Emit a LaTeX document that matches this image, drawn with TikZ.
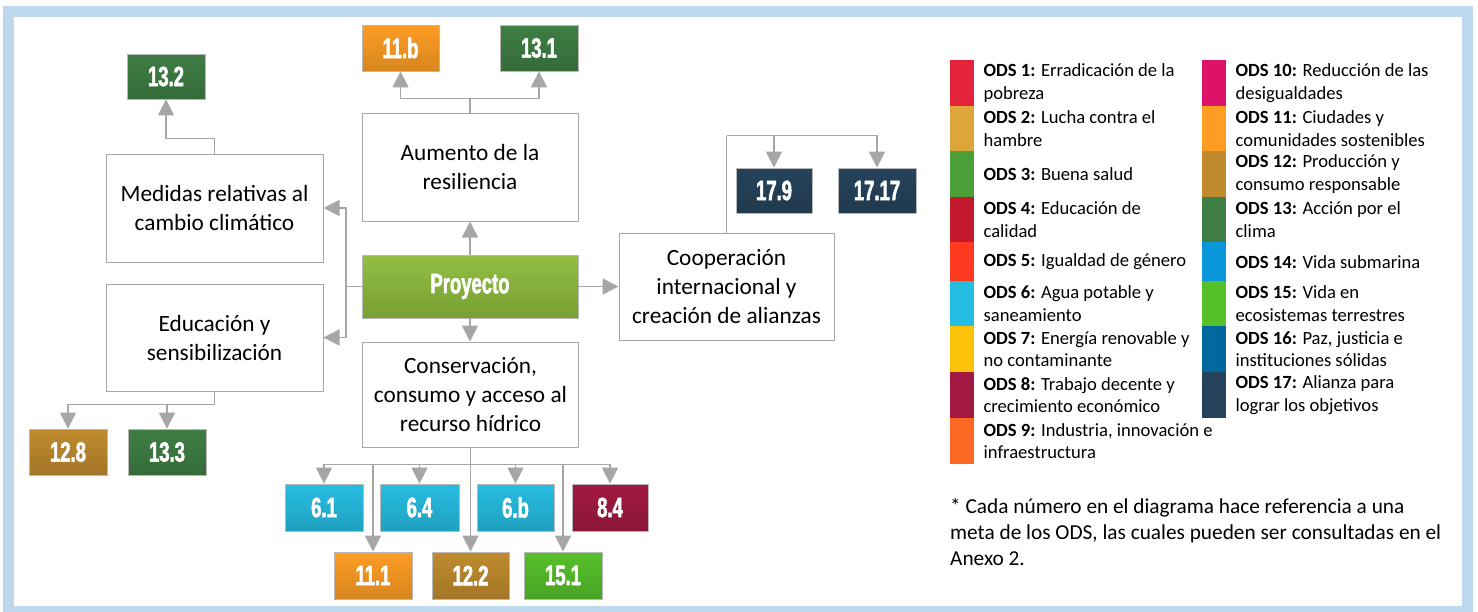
\documentclass[tikz,border=0pt]{standalone}
\usepackage{fontspec}
\setmainfont{Carlito}
\newfontfamily\numfont[FakeStretch=0.66,FakeBold=1.8]{Liberation Sans Bold}
\usetikzlibrary{arrows.meta,calc}
\definecolor{frameblue}{HTML}{BDD7EE}
\definecolor{conn}{HTML}{A6A6A6}
\definecolor{boxgray}{HTML}{A6A6A6}
\definecolor{sA}{HTML}{E5243B}
\definecolor{sB}{HTML}{DDA63A}
\definecolor{sC}{HTML}{4C9F38}
\definecolor{sD}{HTML}{C5192D}
\definecolor{sE}{HTML}{FF3A21}
\definecolor{sF}{HTML}{26BDE2}
\definecolor{sG}{HTML}{FCC30B}
\definecolor{sH}{HTML}{A21942}
\definecolor{sI}{HTML}{FD6925}
\definecolor{sJ}{HTML}{DD1367}
\definecolor{sK}{HTML}{FD9D24}
\definecolor{sL}{HTML}{BF8B2E}
\definecolor{sM}{HTML}{3F7E44}
\definecolor{sN}{HTML}{0A97D9}
\definecolor{sO}{HTML}{56C02B}
\definecolor{sP}{HTML}{00689D}
\definecolor{sQ}{HTML}{26435B}
\definecolor{proyg}{HTML}{8DBB3B}
\tikzset{
  wbox/.style={draw=boxgray, line width=1pt, fill=white, inner sep=0pt, align=center,
    font=\fontsize{23.3}{29}\selectfont},
  goal/.style={draw=boxgray!80, line width=0.8pt, top color=#1, bottom color=#1!85!black,
    inner sep=0pt, text=white, font=\numfont\bfseries\fontsize{28}{28}\selectfont},
  cline/.style={draw=conn, line width=1.5pt},
  arr/.style={draw=conn, line width=1.5pt, -{Triangle[length=16pt,width=16pt]}},
  legsq/.style={fill=#1, draw=none, inner sep=0pt, minimum width=24pt, anchor=north west},
  legtx/.style={inner sep=0pt, anchor=west, align=left, font=\fontsize{18.6}{22.5}\selectfont},
}
\begin{document}
\begin{tikzpicture}[x=1pt,y=-1pt]
\useasboundingbox (0,0) rectangle (1478,611);
\fill[white] (0,0) rectangle (1478,611);
\draw[frameblue, line width=11.5pt] (8.5,11.5) rectangle (1467.5,611.5);

% main boxes
\node[wbox, minimum width=216pt, minimum height=108pt] (aum) at (470,167) {Aumento de la\\resiliencia};
\node[wbox, minimum width=217pt, minimum height=108pt] (med) at (214.5,208) {Medidas relativas al\\cambio climático};
\node[wbox, minimum width=217pt, minimum height=107pt] (edu) at (214.5,337.5) {Educación y\\sensibilización};
\node[wbox, minimum width=215pt, minimum height=107pt] (coop) at (726.5,286.5) {Cooperación\\internacional y\\creación de alianzas};
\node[wbox, minimum width=216pt, minimum height=105pt] (cons) at (470.5,394.5) {Conservación,\\consumo y acceso al\\recurso hídrico};
\node[draw=boxgray!80, line width=0.8pt, top color=proyg!95!white, bottom color=proyg!85!black,
  inner sep=0pt, text=white, font=\numfont\bfseries\fontsize{28}{28}\selectfont,
  minimum width=216pt, minimum height=63pt] (proy) at (470,286.5) {Proyecto};

% goal boxes
\node[goal=sM, minimum width=78pt, minimum height=45pt] (g132) at (166,76.5) {13.2};
\node[goal=sK, minimum width=77pt, minimum height=46pt] (g11b) at (400.5,48) {11.b};
\node[goal=sM, minimum width=78pt, minimum height=46pt] (g131) at (539,48) {13.1};
\node[goal=sQ, minimum width=76pt, minimum height=45pt] (g179) at (774,190.5) {17.9};
\node[goal=sQ, minimum width=78pt, minimum height=45pt] (g1717) at (877,190.5) {17.17};
\node[goal=sL, minimum width=78pt, minimum height=46pt] (g128) at (68,452) {12.8};
\node[goal=sM, minimum width=78pt, minimum height=46pt] (g133) at (167,452) {13.3};
\node[goal=sF, minimum width=78pt, minimum height=47pt] (g61) at (324,507.5) {6.1};
\node[goal=sF, minimum width=79pt, minimum height=47pt] (g64) at (419.5,507.5) {6.4};
\node[goal=sF, minimum width=77pt, minimum height=47pt] (g6b) at (515.5,507.5) {6.b};
\node[goal=sH, minimum width=76pt, minimum height=47pt] (g84) at (610,507.5) {8.4};
\node[goal=sK, minimum width=78pt, minimum height=47pt] (g111) at (373,575.5) {11.1};
\node[goal=sL, minimum width=77pt, minimum height=47pt] (g122) at (470.5,575.5) {12.2};
\node[goal=sO, minimum width=78pt, minimum height=47pt] (g151) at (563,575.5) {15.1};

% connectors
\draw[arr] (proy.north) -- (aum.south);
\draw[arr] (proy.south) -- (proy.south |- cons.north);
\draw[arr] (proy.east) -- (coop.west);
\coordinate (lj) at (346,286.5);
\draw[cline] (proy.west) -- (lj);
\draw[arr] (lj) |- (med.east);
\draw[arr] (lj) |- (edu.east);

\draw[cline] (aum.north) -- ++(0,-14) coordinate (aj);
\draw[arr] (aj) -| (g11b.south);
\draw[arr] (aj) -| (g131.south);

\draw[cline] (med.north) -- ++(0,-15) coordinate (mj);
\draw[arr] (mj) -| (g132.south);

\draw[cline] (edu.south) -- ++(0,13) coordinate (ej);
\draw[arr] (ej) -| (g128.north);
\draw[arr] (ej) -| (g133.north);

\draw[cline] (coop.north) -- ++(0,-97) coordinate (cj);
\draw[arr] (cj) -| (g179.north);
\draw[arr] (cj) -| (g1717.north);

\draw[cline] (cons.south) -- ++(0,17) coordinate (kj);
\foreach \g in {g61,g64,g6b,g84,g111,g122,g151}{
  \draw[arr] (kj) -| (\g.north);
}

% legend
\node[legsq=sA, minimum height=45.5pt] (l1) at (950,60) {};
\node[legsq=sB, minimum height=45.5pt] (l2) at (950,105.5) {};
\node[legsq=sC, minimum height=46pt] (l3) at (950,151) {};
\node[legsq=sD, minimum height=45pt] (l4) at (950,197) {};
\node[legsq=sE, minimum height=39pt] (l5) at (950,242) {};
\node[legsq=sF, minimum height=45pt] (l6) at (950,281) {};
\node[legsq=sG, minimum height=46pt] (l7) at (950,326) {};
\node[legsq=sH, minimum height=46pt] (l8) at (950,372) {};
\node[legsq=sI, minimum height=46pt] (l9) at (950,418) {};
\node[legsq=sJ, minimum height=45.5pt] (l10) at (1202,60) {};
\node[legsq=sK, minimum height=45.5pt] (l11) at (1202,105.5) {};
\node[legsq=sL, minimum height=46pt] (l12) at (1202,151) {};
\node[legsq=sM, minimum height=45pt] (l13) at (1202,197) {};
\node[legsq=sN, minimum height=39pt] (l14) at (1202,242) {};
\node[legsq=sO, minimum height=45pt] (l15) at (1202,281) {};
\node[legsq=sP, minimum height=46pt] (l16) at (1202,326) {};
\node[legsq=sQ, minimum height=46pt] (l17) at (1202,372) {};

\node[legtx] (t1) at ($(l1.east)+(9,0)$) {\textbf{ODS 1:} Erradicación de la\\pobreza};
\node[legtx] (t2) at ($(l2.east)+(9,0)$) {\textbf{ODS 2:} Lucha contra el\\hambre};
\node[legtx] (t3) at ($(l3.east)+(9,0)$) {\textbf{ODS 3:} Buena salud};
\node[legtx] (t4) at ($(l4.east)+(9,0)$) {\textbf{ODS 4:} Educación de\\calidad};
\node[legtx] (t5) at ($(l5.east)+(9,0)$) {\textbf{ODS 5:} Igualdad de género};
\node[legtx] (t6) at ($(l6.east)+(9,0)$) {\textbf{ODS 6:} Agua potable y\\saneamiento};
\node[legtx] (t7) at ($(l7.east)+(9,0)$) {\textbf{ODS 7:} Energía renovable y\\no contaminante};
\node[legtx] (t8) at ($(l8.east)+(9,0)$) {\textbf{ODS 8:} Trabajo decente y\\crecimiento económico};
\node[legtx] (t9) at ($(l9.east)+(9,0)$) {\textbf{ODS 9:} Industria, innovación e\\infraestructura};
\node[legtx] (t10) at ($(l10.east)+(9,0)$) {\textbf{ODS 10:} Reducción de las\\desigualdades};
\node[legtx] (t11) at ($(l11.east)+(9,0)$) {\textbf{ODS 11:} Ciudades y\\comunidades sostenibles};
\node[legtx] (t12) at ($(l12.east)+(9,0)$) {\textbf{ODS 12:} Producción y\\consumo responsable};
\node[legtx] (t13) at ($(l13.east)+(9,0)$) {\textbf{ODS 13:} Acción por el\\clima};
\node[legtx] (t14) at ($(l14.east)+(9,0)$) {\textbf{ODS 14:} Vida submarina};
\node[legtx] (t15) at ($(l15.east)+(9,0)$) {\textbf{ODS 15:} Vida en\\ecosistemas terrestres};
\node[legtx] (t16) at ($(l16.east)+(9,0)$) {\textbf{ODS 16:} Paz, justicia e\\instituciones sólidas};
\node[legtx] (t17) at ($(l17.east)+(9,0)$) {\textbf{ODS 17:} Alianza para\\lograr los objetivos};

\node[inner sep=0pt, anchor=west, align=left, font=\fontsize{21.3}{26}\selectfont] (note) at (950,532)
  {* Cada número en el diagrama hace referencia a una\\meta de los ODS, las cuales pueden ser consultadas en el\\Anexo 2.};
\end{tikzpicture}
\end{document}
